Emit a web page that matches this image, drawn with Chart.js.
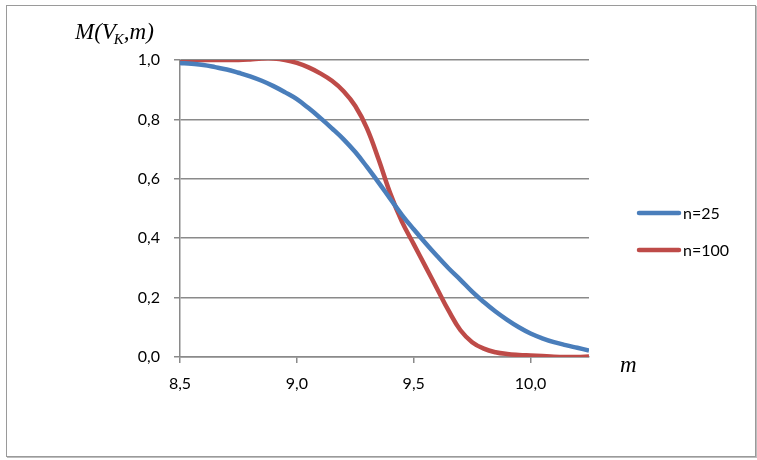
<!DOCTYPE html>
<html>
<head>
<meta charset="utf-8">
<script src="https://cdn.jsdelivr.net/npm/chart.js@4.4.0/dist/chart.umd.min.js"></script>
<style>
  html, body { margin: 0; padding: 0; background: #fff; }
  #wrap { position: relative; width: 757px; height: 460px; }
  #frame {
    position: absolute; left: 6px; top: 5px; width: 748px; height: 450px;
    border: 1px solid #9a9a9a; box-shadow: 1px 1px 0 #bdbdbd; pointer-events: none;
  }
</style>
</head>
<body>
<div id="wrap">
  <canvas id="myChart" width="757" height="460"></canvas>
  <div id="frame"></div>
</div>
<script>
// datos //
const mValues = [8.5, 8.55, 8.6, 8.65, 8.7, 8.75, 8.8, 8.85, 8.9, 8.95,
                 9.0, 9.05, 9.1, 9.15, 9.2, 9.25, 9.3, 9.35, 9.4, 9.45,
                 9.5, 9.55, 9.6, 9.65, 9.7, 9.75, 9.8, 9.85, 9.9, 9.95,
                 10.0, 10.05, 10.1, 10.15, 10.2, 10.25];
const n25 = [0.99, 0.987, 0.983, 0.976, 0.968, 0.957, 0.945, 0.93, 0.912, 0.891,
             0.868, 0.838, 0.805, 0.77, 0.733, 0.69, 0.64, 0.587, 0.532, 0.478,
             0.43, 0.384, 0.34, 0.298, 0.26, 0.22, 0.185, 0.153, 0.125, 0.1,
             0.079, 0.063, 0.05, 0.04, 0.031, 0.022];
const n100 = [1.0, 1.0, 1.0, 1.0, 1.0, 1.0, 1.002, 1.005, 1.005, 1.0,
              0.99, 0.975, 0.955, 0.93, 0.895, 0.845, 0.77, 0.665, 0.55, 0.455,
              0.38, 0.305, 0.23, 0.155, 0.09, 0.05, 0.028, 0.016, 0.01, 0.007,
              0.005, 0.003, 0.001, 0.0, 0.0, 0.002];
const xTicks = [8.5, 9.0, 9.5, 10.0];
const yTicks = [0, 0.2, 0.4, 0.6, 0.8, 1.0];
const seriesNames = ['n=25', 'n=100'];
const colores = ['#4A7EBB', '#BE4B48'];

const gris = '#8a8a8a';
const fmt = v => v.toFixed(1).replace('.', ',');

// titulos de ejes y leyenda //
const extras = {
  id: 'extras',
  afterDraw(chart) {
    const c = chart.ctx;
    const a = chart.chartArea;
    c.save();
    c.fillStyle = '#000';
    c.textBaseline = 'alphabetic';
    // M(V_K,m)
    c.font = 'italic 23px "Liberation Serif"';
    let x = 75, y = 39;
    c.fillText('M(V', x, y);
    x += c.measureText('M(V').width;
    c.font = 'italic 15px "Liberation Serif"';
    c.fillText('K', x - 2, y + 5);
    x += c.measureText('K').width - 2;
    c.font = 'italic 23px "Liberation Serif"';
    c.fillText(',m)', x, y);
    // m
    c.fillText('m', 620, 372);
    // leyenda
    chart.data.datasets.forEach((ds, i) => {
      const ly = 213 + i * 37;
      c.strokeStyle = ds.borderColor;
      c.lineWidth = 4.5;
      c.lineCap = 'round';
      c.beginPath();
      c.moveTo(a.right + 50, ly);
      c.lineTo(a.right + 90, ly);
      c.stroke();
      c.font = '16px Lato';
      c.textBaseline = 'middle';
      c.fillText(ds.label, a.right + 94, ly + 1);
    });
    c.restore();
  }
};

const ctx = document.getElementById('myChart');
new Chart(ctx, {
  type: 'scatter',
  data: {
    datasets: [n25, n100].map((serie, i) => ({
      label: seriesNames[i],
      data: serie.map((v, j) => ({ x: mValues[j], y: v })),
      showLine: true,
      borderColor: colores[i],
      backgroundColor: colores[i],
      borderWidth: 4.5,
      pointRadius: 0,
      tension: 0.4,
      fill: false
    }))
  },
  options: {
    responsive: false,
    animation: false,
    layout: { padding: { left: 120, right: 168, top: 60, bottom: 63 } },
    plugins: { legend: { display: false }, tooltip: { enabled: false } },
    scales: {
      x: {
        type: 'linear',
        min: 8.5,
        max: 10.25,
        afterBuildTicks: axis => { axis.ticks = xTicks.map(v => ({ value: v })); },
        afterFit: s => { s.height = 40; },
        ticks: { callback: v => fmt(v), color: '#000', font: { family: 'Lato', size: 16 }, padding: 11, maxRotation: 0 },
        grid: { drawOnChartArea: false, color: gris, tickLength: 6, lineWidth: 1.5 },
        border: { color: gris, width: 1.5 }
      },
      y: {
        min: 0,
        max: 1,
        afterBuildTicks: axis => { axis.ticks = yTicks.map(v => ({ value: v })); },
        afterFit: s => { s.width = 60; },
        ticks: { callback: v => fmt(v), color: '#000', font: { family: 'Lato', size: 16 }, padding: 14 },
        grid: { color: gris, tickLength: 6, lineWidth: 1.5 },
        border: { color: gris, width: 1.5 }
      }
    }
  },
  plugins: [extras]
});
</script>
</body>
</html>
